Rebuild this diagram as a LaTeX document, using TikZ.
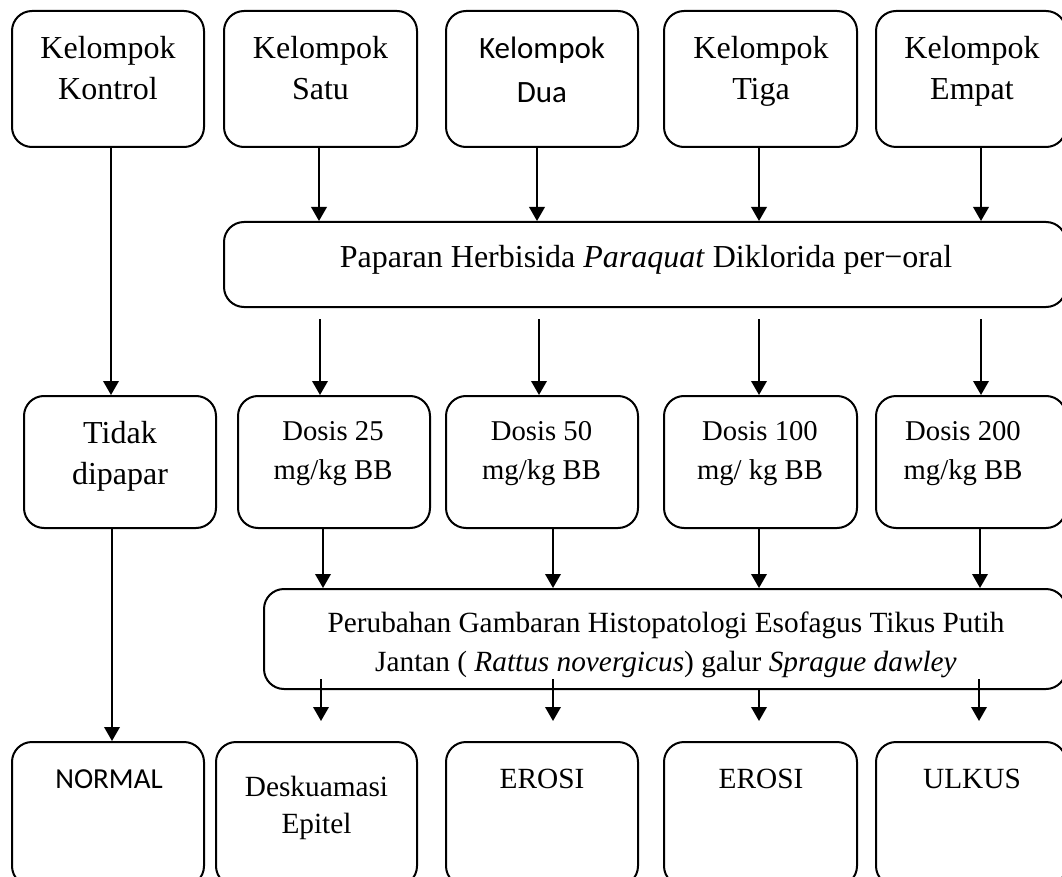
\documentclass[tikz,border=0pt]{standalone}
\usepackage{fontspec}
\setmainfont{Liberation Serif}
\newfontfamily\calib{Carlito}
\usetikzlibrary{arrows.meta}
\begin{document}
\begin{tikzpicture}[x=1pt,y=-1pt,
  box/.style={draw, line width=2pt, rounded corners=20pt, inner sep=0pt},
  arr/.style={line width=2pt, -{Triangle[width=15.5pt,length=14pt]}},
  txt/.style={anchor=base, inner sep=0pt, font=\fontsize{32}{40}\selectfont},
  txtd/.style={anchor=base, inner sep=0pt, font=\fontsize{28.7}{36}\selectfont},
  txts/.style={anchor=base, inner sep=0pt, font=\fontsize{29.3}{36}\selectfont},
  txtc/.style={anchor=base, inner sep=0pt, font=\calib\fontsize{31}{40}\selectfont},
  txtn/.style={anchor=base, inner sep=0pt, font=\calib\fontsize{29}{36}\selectfont},
  top/.style={box, minimum height=136pt},
  mid/.style={box, minimum height=132pt},
  bot/.style={box, minimum height=144pt}]
\useasboundingbox (0,0) rectangle (1062,877);
\clip (0,0) rectangle (1062,877);
\fill[white] (0,0) rectangle (1062,877);

% top row
\node[top, minimum width=192pt] (kontrol) at (108,79) {};
\node[top, minimum width=193pt] (satu) at (320.5,79) {};
\node[top, minimum width=192pt] (dua) at (542,79) {};
\node[top, minimum width=193pt] (tiga) at (760.5,79) {};
\node[top, minimum width=190pt] (empat) at (971,79) {};
\node[txt] (kontrolA) at (108,59) {Kelompok};
\node[txt] (kontrolB) at (108,100) {Kontrol};
\node[txt] (satuA) at (320.5,59) {Kelompok};
\node[txt] (satuB) at (320.5,100) {Satu};
\node[txtc] (duaA) at (542,59) {Kelompok};
\node[txtc] (duaB) at (542,103) {Dua};
\node[txt] (tigaA) at (761,59) {Kelompok};
\node[txt] (tigaB) at (761,100) {Tiga};
\node[txt] (empatA) at (972,59) {Kelompok};
\node[txt] (empatB) at (972,100) {Empat};

% paparan
\node[box, minimum width=842pt, minimum height=85pt] (paparan) at (645,264.5) {};
\node[txt] (paparanT) at (646,267) {Paparan Herbisida \textit{Paraquat} Diklorida per−oral};

% middle row
\node[mid, minimum width=192pt] (tidak) at (120,462) {};
\node[mid, minimum width=192pt] (d25) at (334,462) {};
\node[mid, minimum width=192pt] (d50) at (542,462) {};
\node[mid, minimum width=193pt] (d100) at (760.5,462) {};
\node[mid, minimum width=190pt] (d200) at (971,462) {};
\node[txt] (tidakA) at (120,443) {Tidak};
\node[txt] (tidakB) at (120,484) {dipapar};
\node[txtd] (d25A) at (333,440) {Dosis 25};
\node[txtd] (d25B) at (333,479) {mg/kg BB};
\node[txtd] (d50A) at (541.5,440) {Dosis 50};
\node[txtd] (d50B) at (541.5,479) {mg/kg BB};
\node[txtd] (d100A) at (760,440) {Dosis 100};
\node[txtd] (d100B) at (760,479) {mg/ kg BB};
\node[txtd] (d200A) at (963,440) {Dosis 200};
\node[txtd] (d200B) at (963,479) {mg/kg BB};

% perubahan
\node[box, minimum width=802pt, minimum height=100pt] (perub) at (665,639) {};
\node[txts] (perubA) at (666,632) {Perubahan Gambaran Histopatologi Esofagus Tikus Putih};
\node[txts] (perubB) at (666,671) {Jantan ( \textit{Rattus novergicus}) galur \textit{Sprague dawley}};

% bottom row
\node[bot, minimum width=192pt] (normal) at (108,814) {};
\node[bot, minimum width=201pt] (desk) at (316.5,814) {};
\node[bot, minimum width=192pt] (erosiA) at (542,814) {};
\node[bot, minimum width=193pt] (erosiB) at (760.5,814) {};
\node[bot, minimum width=190pt] (ulkus) at (971,814) {};
\node[txtn] (normalT) at (109,788) {NORMAL};
\node[txts] (deskA) at (316.5,796) {Deskuamasi};
\node[txts] (deskB) at (316.5,833) {Epitel};
\node[txts] (erosiAT) at (542,788) {EROSI};
\node[txts] (erosiBT) at (761,788) {EROSI};
\node[txts] (ulkusT) at (972,788) {ULKUS};

% connectors top -> paparan / tidak
\draw[arr] ([xshift=3pt]kontrol.south) -- ([xshift=-9pt]tidak.north);
\draw[arr] ([xshift=-1.5pt]satu.south) -- ([xshift=-1.5pt]satu.south |- paparan.north);
\draw[arr] ([xshift=-5pt]dua.south) -- ([xshift=-5pt]dua.south |- paparan.north);
\draw[arr] ([xshift=-1.5pt]tiga.south) -- ([xshift=-1.5pt]tiga.south |- paparan.north);
\draw[arr] ([xshift=10pt]empat.south) -- ([xshift=10pt]empat.south |- paparan.north);

% paparan -> doses
\draw[arr] ([xshift=-14pt,yshift=-11pt]d25.north |- paparan.south) -- ([xshift=-14pt]d25.north);
\draw[arr] ([xshift=-3pt,yshift=-11pt]d50.north |- paparan.south) -- ([xshift=-3pt]d50.north);
\draw[arr] ([xshift=-1.5pt,yshift=-11pt]d100.north |- paparan.south) -- ([xshift=-1.5pt]d100.north);
\draw[arr] ([xshift=10pt,yshift=-11pt]d200.north |- paparan.south) -- ([xshift=10pt]d200.north);

% doses -> perubahan
\draw[arr] ([xshift=-11pt]d25.south) -- ([xshift=-11pt]d25.south |- perub.north);
\draw[arr] ([xshift=11pt]d50.south) -- ([xshift=11pt]d50.south |- perub.north);
\draw[arr] ([xshift=-1.5pt]d100.south) -- ([xshift=-1.5pt]d100.south |- perub.north);
\draw[arr] ([xshift=9pt]d200.south) -- ([xshift=9pt]d200.south |- perub.north);

% tidak -> normal
\draw[arr] ([xshift=-8pt]tidak.south) -- ([xshift=4pt]normal.north);

% perubahan -> results
\draw[arr] ([xshift=4.5pt,yshift=11pt]desk.north |- perub.south) -- ([xshift=4.5pt,yshift=20pt]desk.north);
\draw[arr] ([xshift=11pt,yshift=11pt]erosiA.north |- perub.south) -- ([xshift=11pt,yshift=20pt]erosiA.north);
\draw[arr] ([xshift=-1.5pt]erosiB.north |- perub.south) -- ([xshift=-1.5pt,yshift=20pt]erosiB.north);
\draw[arr] ([xshift=8pt,yshift=11pt]ulkus.north |- perub.south) -- ([xshift=8pt,yshift=20pt]ulkus.north);
\end{tikzpicture}
\end{document}
